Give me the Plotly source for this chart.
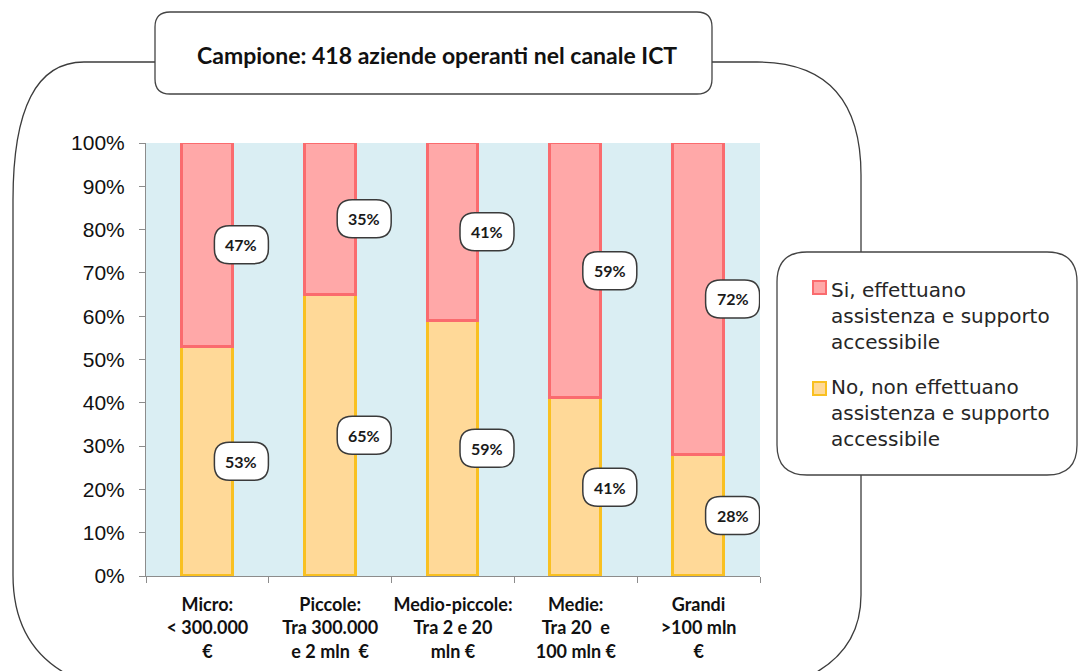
import plotly.graph_objects as go

# Dati: quota di aziende per classe di fatturato
categorie = [
    "Micro:<br>< 300.000<br>€",
    "Piccole:<br>Tra 300.000<br>e 2 mln  €",
    "Medio-piccole:<br>Tra 2 e 20<br>mln €",
    "Medie:<br>Tra 20  e<br>100 mln €",
    "Grandi<br>>100 mln<br>€",
]
no_supporto = [53, 65, 59, 41, 28]   # No, non effettuano assistenza e supporto accessibile
si_supporto = [47, 35, 41, 59, 72]   # Si, effettuano assistenza e supporto accessibile
y_ticks = [0, 10, 20, 30, 40, 50, 60, 70, 80, 90, 100]
y_tick_text = [f"{v}%" for v in y_ticks]

titolo = "Campione: 418 aziende operanti nel canale ICT"
nome_si = "Si, effettuano<br>assistenza e supporto<br>accessibile"
nome_no = "No, non effettuano<br>assistenza e supporto<br>accessibile"

# Colori
ROSA, ROSSO = "#FFA8A8", "#FA6B6E"
PESCA, ORO = "#FFD998", "#F9C021"
SFONDO = "#DAEEF3"
ASSE = "#8C8C8C"

# Area del grafico in pixel
L, R, T, B = 146, 760, 143, 576
W, H = 1080, 671


def px(x, y):
    """Converte pixel pagina in coordinate paper."""
    return (x - L) / (R - L), (B - y) / (B - T)


def path_paper(points):
    out = []
    for cmd, pts in points:
        coords = " ".join("%.5f,%.5f" % px(x, y) for x, y in pts)
        out.append(cmd + " " + coords if coords else cmd)
    return " ".join(out)


def rounded_rect(x0, y0, x1, y1, r):
    return path_paper([
        ("M", [(x0 + r, y0)]), ("L", [(x1 - r, y0)]), ("Q", [(x1, y0), (x1, y0 + r)]),
        ("L", [(x1, y1 - r)]), ("Q", [(x1, y1), (x1 - r, y1)]),
        ("L", [(x0 + r, y1)]), ("Q", [(x0, y1), (x0, y1 - r)]),
        ("L", [(x0, y0 + r)]), ("Q", [(x0, y0), (x0 + r, y0)]), ("Z", []),
    ])


def pill(dx, hw, hh, r):
    x0, x1, y0, y1 = dx - hw, dx + hw, -hh, hh
    return (f"M {x0 + r},{y0} L {x1 - r},{y0} Q {x1},{y0} {x1},{y0 + r} "
            f"L {x1},{y1 - r} Q {x1},{y1} {x1 - r},{y1} L {x0 + r},{y1} "
            f"Q {x0},{y1} {x0},{y1 - r} L {x0},{y0 + r} Q {x0},{y0} {x0 + r},{y0} Z")


xs = list(range(len(categorie)))

fig = go.Figure()
fig.add_trace(go.Bar(
    x=xs, y=no_supporto, name="No", width=0.415,
    marker=dict(color=PESCA, line=dict(color=ORO, width=2.8)),
    showlegend=False, hoverinfo="skip",
))
fig.add_trace(go.Bar(
    x=xs, y=si_supporto, name="Si", width=0.415,
    marker=dict(color=ROSA, line=dict(color=ROSSO, width=2.8)),
    showlegend=False, hoverinfo="skip",
))
# asse secondario solo per le tacche tra le categorie
fig.add_trace(go.Scatter(x=[-0.5, 4.5], y=[0, 0], xaxis="x2", mode="lines",
                         line=dict(width=0), showlegend=False, hoverinfo="skip"))

shapes = []
annotations = []

# Etichette percentuali in riquadri arrotondati
DX = 34
for i in xs:
    for val, mid in ((no_supporto[i], no_supporto[i] / 2),
                     (si_supporto[i], no_supporto[i] + si_supporto[i] / 2)):
        shapes.append(dict(
            type="path", xref="x", yref="y", xsizemode="pixel", ysizemode="pixel",
            xanchor=i, yanchor=mid, path=pill(DX, 27, 19, 15),
            fillcolor="white", line=dict(color="#3A3A3A", width=1.5), layer="above",
        ))
        annotations.append(dict(
            x=i, y=mid, xref="x", yref="y", xshift=DX, showarrow=False,
            text=f"<b>{val}%</b>", font=dict(family="Lato", size=16, color="#1A1A1A"),
        ))

# Cornice generale
frame_left = path_paper([
    ("M", [(156, 62)]), ("L", [(84, 62)]), ("Q", [(13, 62), (13, 200)]),
    ("L", [(13, 575)]), ("Q", [(13, 668), (110, 690)]),
])
frame_right_top = path_paper([
    ("M", [(712, 62)]), ("L", [(757, 62)]), ("Q", [(861, 62), (861, 175)]),
    ("L", [(861, 252)]),
])
frame_right_bottom = path_paper([
    ("M", [(861, 475)]), ("L", [(861, 595)]), ("Q", [(861, 668), (770, 690)]),
])
for p in (frame_left, frame_right_top, frame_right_bottom):
    shapes.append(dict(type="path", xref="paper", yref="paper", path=p,
                       line=dict(color="#3C3C3C", width=1.3), layer="below"))

# Riquadro del titolo
shapes.append(dict(type="path", xref="paper", yref="paper",
                   path=rounded_rect(155, 12, 712, 94, 15),
                   fillcolor="white", line=dict(color="#444444", width=1.3), layer="below"))
tx, ty = px(437, 55)
annotations.append(dict(x=tx, y=ty, xref="paper", yref="paper", showarrow=False,
                        xanchor="center", yanchor="middle",
                        text=f"<b>{titolo}</b>",
                        font=dict(family="Lato", size=23, color="#111111")))

# Riquadro della legenda
shapes.append(dict(type="path", xref="paper", yref="paper",
                   path=rounded_rect(777, 252, 1077, 475, 30),
                   fillcolor="white", line=dict(color="#444444", width=1.3), layer="below"))
for (sq_y, txt_y, fill, edge, testo) in ((281, 316, ROSA, ROSSO, nome_si),
                                         (382, 413, PESCA, ORO, nome_no)):
    x0, y0 = px(813, sq_y)
    x1, y1 = px(826, sq_y + 13)
    shapes.append(dict(type="rect", xref="paper", yref="paper", x0=x0, x1=x1, y0=y0, y1=y1,
                       fillcolor=fill, line=dict(color=edge, width=2)))
    ax, ay = px(829, txt_y)
    annotations.append(dict(x=ax, y=ay, xref="paper", yref="paper", showarrow=False,
                            xanchor="left", yanchor="middle", align="left", text=testo,
                            font=dict(family="DejaVu Sans", size=20, color="#262626")))

fig.update_layout(
    width=W, height=H,
    margin=dict(l=L, r=W - R, t=T, b=H - B, pad=0, autoexpand=False),
    paper_bgcolor="white", plot_bgcolor=SFONDO,
    barmode="stack", bargap=0,
    showlegend=False,
    shapes=shapes, annotations=annotations,
    xaxis=dict(
        range=[-0.5, 4.5], tickmode="array", tickvals=xs, ticktext=[f"<b>{c}</b>" for c in categorie],
        ticks="", showline=False, showgrid=False, zeroline=False, fixedrange=True,
        automargin=False,
        tickfont=dict(family="Lato", size=18, color="#111111"), ticklabelstandoff=16,
    ),
    xaxis2=dict(
        range=[-0.5, 4.5], overlaying="x", side="bottom", anchor="y", automargin=False,
        tickmode="array", tickvals=[-0.5, 0.5, 1.5, 2.5, 3.5, 4.5], showticklabels=False,
        ticks="outside", ticklen=6, tickcolor=ASSE, tickwidth=1,
        showline=True, linecolor=ASSE, linewidth=1, showgrid=False, zeroline=False,
    ),
    yaxis=dict(
        range=[0, 100], tickmode="array", tickvals=y_ticks, ticktext=y_tick_text,
        ticks="outside", ticklen=6, tickcolor=ASSE, showline=True, linecolor=ASSE,
        linewidth=1, showgrid=False, zeroline=False, ticklabelstandoff=10, automargin=False,
        tickfont=dict(family="Liberation Sans", size=21, color="#111111"),
    ),
)

fig.write_html("out.html")
